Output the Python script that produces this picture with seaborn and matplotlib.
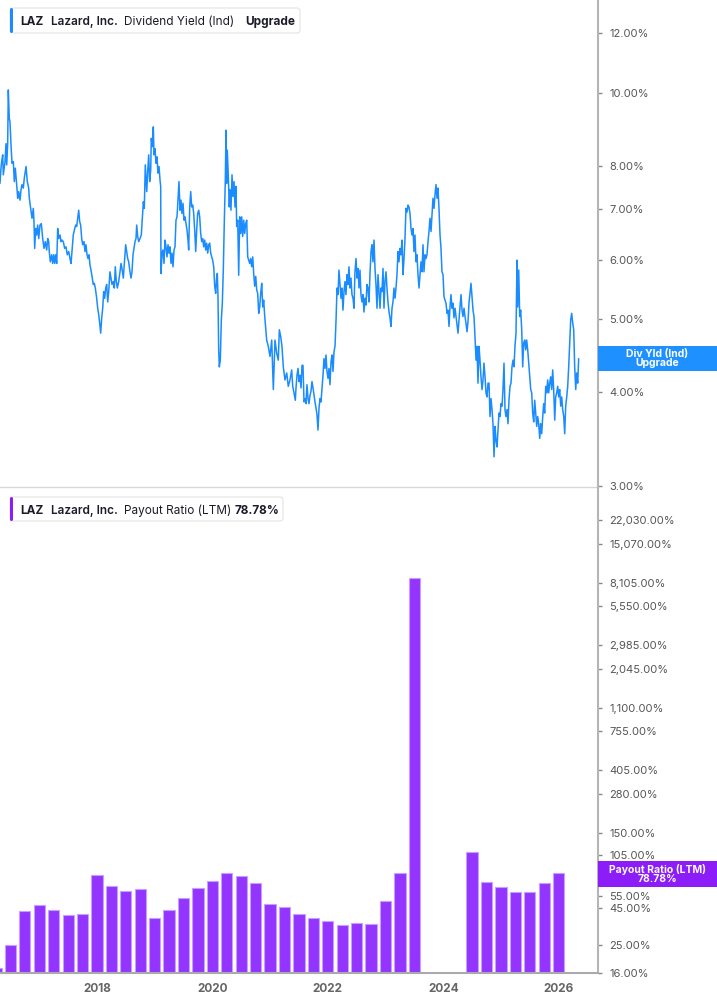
import numpy as np
import pandas as pd
import matplotlib
matplotlib.use("Agg")
import matplotlib.pyplot as plt
import seaborn as sns
from matplotlib.patches import FancyBboxPatch, Rectangle
from matplotlib.transforms import IdentityTransform
from matplotlib.ticker import FixedLocator, FixedFormatter, NullLocator

# Dividend yield (Ind), % -- decimal year / value
yld_t = [
    2016.319, 2016.336, 2016.348, 2016.366, 2016.376, 2016.406, 2016.423, 2016.435, 2016.452, 2016.463,
    2016.480, 2016.492, 2016.510, 2016.527, 2016.550, 2016.567, 2016.584, 2016.608, 2016.626, 2016.643,
    2016.666, 2016.683, 2016.700, 2016.723, 2016.740, 2016.770, 2016.792, 2016.816, 2016.827, 2016.851,
    2016.874, 2016.896, 2016.908, 2016.920, 2016.938, 2016.955, 2016.972, 2016.990, 2017.012, 2017.035,
    2017.059, 2017.082, 2017.104, 2017.128, 2017.146, 2017.163, 2017.173, 2017.191, 2017.215, 2017.232,
    2017.250, 2017.267, 2017.284, 2017.302, 2017.319, 2017.336, 2017.359, 2017.376, 2017.393, 2017.416,
    2017.440, 2017.463, 2017.485, 2017.510, 2017.532, 2017.550, 2017.567, 2017.589, 2017.614, 2017.631,
    2017.648, 2017.666, 2017.683, 2017.700, 2017.717, 2017.735, 2017.752, 2017.775, 2017.792, 2017.809,
    2017.827, 2017.844, 2017.861, 2017.879, 2017.901, 2017.919, 2017.936, 2017.953, 2017.971, 2017.995,
    2018.012, 2018.030, 2018.047, 2018.064, 2018.082, 2018.099, 2018.116, 2018.133, 2018.151, 2018.168,
    2018.186, 2018.203, 2018.225, 2018.243, 2018.260, 2018.283, 2018.300, 2018.317, 2018.335, 2018.352,
    2018.376, 2018.399, 2018.416, 2018.433, 2018.456, 2018.480, 2018.497, 2018.515, 2018.532, 2018.549,
    2018.572, 2018.589, 2018.607, 2018.624, 2018.641, 2018.659, 2018.676, 2018.688, 2018.705, 2018.723,
    2018.745, 2018.768, 2018.785, 2018.803, 2018.820, 2018.837, 2018.862, 2018.879, 2018.896, 2018.913,
    2018.931, 2018.941, 2018.959, 2018.976, 2018.988, 2019.005, 2019.023, 2019.040, 2019.057, 2019.075,
    2019.092, 2019.104, 2019.109, 2019.127, 2019.144, 2019.161, 2019.179, 2019.196, 2019.213, 2019.231,
    2019.248, 2019.265, 2019.283, 2019.300, 2019.317, 2019.335, 2019.352, 2019.369, 2019.387, 2019.404,
    2019.421, 2019.439, 2019.456, 2019.473, 2019.491, 2019.508, 2019.525, 2019.543, 2019.560, 2019.577,
    2019.589, 2019.607, 2019.624, 2019.641, 2019.659, 2019.676, 2019.693, 2019.711, 2019.728, 2019.745,
    2019.763, 2019.780, 2019.797, 2019.815, 2019.832, 2019.849, 2019.867, 2019.884, 2019.901, 2019.919,
    2019.936, 2019.953, 2019.971, 2019.988, 2020.005, 2020.023, 2020.040, 2020.057, 2020.075, 2020.085,
    2020.097, 2020.109, 2020.120, 2020.137, 2020.155, 2020.172, 2020.189, 2020.207, 2020.224, 2020.236,
    2020.248, 2020.258, 2020.276, 2020.293, 2020.305, 2020.322, 2020.340, 2020.357, 2020.375, 2020.392,
    2020.409, 2020.421, 2020.439, 2020.456, 2020.473, 2020.491, 2020.508, 2020.525, 2020.543, 2020.560,
    2020.577, 2020.595, 2020.612, 2020.629, 2020.647, 2020.664, 2020.681, 2020.699, 2020.716, 2020.733,
    2020.751, 2020.768, 2020.785, 2020.803, 2020.820, 2020.837, 2020.855, 2020.872, 2020.889, 2020.907,
    2020.941, 2020.969, 2020.998, 2021.028, 2021.056, 2021.085, 2021.115, 2021.142, 2021.160, 2021.184,
    2021.206, 2021.229, 2021.258, 2021.288, 2021.315, 2021.345, 2021.374, 2021.392, 2021.414, 2021.437,
    2021.449, 2021.466, 2021.484, 2021.501, 2021.518, 2021.536, 2021.553, 2021.570, 2021.588, 2021.605,
    2021.622, 2021.639, 2021.657, 2021.674, 2021.692, 2021.709, 2021.726, 2021.744, 2021.761, 2021.778,
    2021.796, 2021.813, 2021.830, 2021.848, 2021.865, 2021.882, 2021.900, 2021.917, 2021.934, 2021.952,
    2021.969, 2021.986, 2022.004, 2022.021, 2022.038, 2022.056, 2022.073, 2022.090, 2022.108, 2022.125,
    2022.142, 2022.160, 2022.177, 2022.194, 2022.212, 2022.229, 2022.246, 2022.263, 2022.281, 2022.298,
    2022.315, 2022.333, 2022.350, 2022.367, 2022.385, 2022.402, 2022.419, 2022.437, 2022.454, 2022.471,
    2022.489, 2022.506, 2022.523, 2022.541, 2022.558, 2022.575, 2022.593, 2022.610, 2022.627, 2022.645,
    2022.662, 2022.679, 2022.697, 2022.714, 2022.731, 2022.749, 2022.766, 2022.783, 2022.801, 2022.818,
    2022.835, 2022.853, 2022.870, 2022.887, 2022.905, 2022.922, 2022.939, 2022.957, 2022.974, 2022.991,
    2023.009, 2023.026, 2023.043, 2023.061, 2023.078, 2023.095, 2023.113, 2023.130, 2023.147, 2023.165,
    2023.182, 2023.199, 2023.217, 2023.234, 2023.251, 2023.269, 2023.286, 2023.303, 2023.321, 2023.338,
    2023.355, 2023.373, 2023.390, 2023.407, 2023.425, 2023.442, 2023.459, 2023.477, 2023.494, 2023.511,
    2023.529, 2023.546, 2023.563, 2023.581, 2023.598, 2023.615, 2023.633, 2023.650, 2023.667, 2023.685,
    2023.702, 2023.719, 2023.737, 2023.754, 2023.771, 2023.789, 2023.806, 2023.823, 2023.841, 2023.858,
    2023.875, 2023.893, 2023.910, 2023.927, 2023.945, 2023.962, 2023.979, 2023.997, 2024.014, 2024.031,
    2024.049, 2024.066, 2024.083, 2024.101, 2024.118, 2024.135, 2024.153, 2024.170, 2024.187, 2024.205,
    2024.222, 2024.239, 2024.257, 2024.274, 2024.291, 2024.309, 2024.326, 2024.343, 2024.361, 2024.378,
    2024.395, 2024.413, 2024.430, 2024.447, 2024.465, 2024.482, 2024.499, 2024.517, 2024.534, 2024.551,
    2024.569, 2024.586, 2024.603, 2024.621, 2024.638, 2024.655, 2024.673, 2024.690, 2024.707, 2024.725,
    2024.742, 2024.759, 2024.777, 2024.794, 2024.811, 2024.829, 2024.846, 2024.863, 2024.881, 2024.898,
    2024.915, 2024.933, 2024.950, 2024.967, 2024.984, 2025.002, 2025.019, 2025.036, 2025.054, 2025.071,
    2025.088, 2025.106, 2025.123, 2025.140, 2025.158, 2025.175, 2025.192, 2025.210, 2025.227, 2025.244,
    2025.262, 2025.279, 2025.291, 2025.309, 2025.326, 2025.343, 2025.361, 2025.378, 2025.395, 2025.413,
    2025.430, 2025.447, 2025.465, 2025.482, 2025.499, 2025.517, 2025.534, 2025.551, 2025.569, 2025.586,
    2025.603, 2025.621, 2025.638, 2025.655, 2025.673, 2025.690, 2025.707, 2025.725, 2025.742, 2025.759,
    2025.777, 2025.794, 2025.811, 2025.829, 2025.846, 2025.863, 2025.881, 2025.898, 2025.915, 2025.933,
    2025.950, 2025.967, 2025.985, 2026.002, 2026.019, 2026.037, 2026.054, 2026.071, 2026.089, 2026.106,
    2026.123, 2026.141, 2026.158, 2026.175, 2026.193, 2026.210, 2026.227, 2026.245, 2026.262, 2026.279,
    2026.297, 2026.314, 2026.331, 2026.348,
]
yld_v = [
    7.58, 7.94, 8.10, 8.27, 7.78, 8.10, 8.56, 8.02, 8.56, 10.09,
    9.25, 9.15, 8.52, 8.06, 8.10, 7.62, 7.94, 7.55, 7.24, 7.39,
    7.20, 7.43, 7.55, 7.47, 7.70, 7.98, 7.62, 7.47, 7.24, 7.02,
    6.81, 7.02, 6.74, 6.21, 6.60, 6.47, 6.67, 6.40, 6.67, 6.70,
    6.40, 6.21, 6.34, 6.18, 6.40, 6.34, 6.15, 5.96, 6.09, 5.93,
    6.09, 5.93, 6.09, 5.93, 6.60, 6.40, 6.47, 6.34, 6.37, 6.34,
    6.21, 6.24, 6.09, 6.15, 6.02, 5.93, 6.15, 6.47, 6.60, 6.67,
    6.64, 6.81, 6.98, 6.74, 6.67, 6.40, 6.28, 6.34, 6.15, 6.28,
    6.09, 6.02, 6.09, 5.90, 5.78, 5.67, 5.56, 5.58, 5.50, 5.33,
    5.17, 5.07, 4.94, 4.79, 5.02, 5.17, 5.44, 5.33, 5.50, 5.56,
    5.27, 5.44, 5.78, 5.67, 5.56, 5.61, 5.50, 5.87, 5.61, 5.50,
    5.61, 5.78, 5.93, 5.84, 5.67, 6.02, 6.28, 6.15, 6.02, 5.96,
    5.78, 5.67, 5.78, 6.09, 6.21, 6.34, 6.40, 6.67, 6.44, 6.34,
    6.40, 6.47, 6.81, 7.16, 7.02, 8.02, 7.39, 7.86, 8.27, 7.62,
    7.90, 8.70, 8.48, 9.01, 8.27, 8.43, 8.06, 8.22, 7.82, 7.98,
    7.66, 7.51, 5.75, 6.12, 6.18, 5.93, 6.37, 6.24, 6.05, 6.28,
    6.12, 6.24, 5.93, 6.12, 5.87, 6.18, 6.24, 6.77, 6.84, 7.20,
    7.62, 6.98, 7.20, 6.91, 7.13, 6.77, 6.84, 6.70, 6.57, 6.37,
    6.18, 7.05, 7.39, 7.05, 7.09, 6.91, 6.57, 6.15, 6.57, 6.91,
    6.98, 6.84, 6.50, 6.34, 6.40, 6.24, 6.37, 6.18, 6.31, 6.12,
    6.28, 6.31, 6.12, 6.05, 5.99, 5.87, 5.53, 5.41, 5.70, 5.75,
    5.36, 4.55, 4.32, 4.41, 4.99, 5.25, 5.81, 6.77, 7.66, 8.92,
    7.58, 8.39, 7.74, 7.05, 7.43, 6.98, 7.78, 7.28, 7.62, 7.05,
    7.51, 6.64, 6.77, 5.72, 6.84, 6.50, 6.84, 6.44, 6.77, 6.50,
    6.70, 6.77, 6.05, 5.99, 5.93, 6.02, 5.87, 6.05, 5.75, 5.53,
    5.70, 5.47, 5.41, 5.09, 5.19, 5.41, 5.58, 5.19, 5.30, 5.04,
    4.69, 4.60, 4.46, 4.69, 4.03, 4.69, 4.50, 4.41, 4.84, 4.74,
    4.60, 4.32, 4.15, 4.24, 4.07, 4.15, 4.28, 4.07, 3.99, 3.90,
    4.05, 4.21, 4.30, 4.13, 4.21, 4.05, 4.34, 4.34, 3.88, 3.92,
    3.86, 4.09, 3.92, 3.86, 3.96, 4.01, 4.13, 4.05, 3.96, 3.88,
    3.81, 3.73, 3.56, 3.81, 3.92, 3.88, 4.05, 4.21, 4.43, 4.30,
    4.48, 4.26, 4.17, 4.30, 4.09, 4.39, 4.48, 4.26, 4.53, 4.60,
    4.96, 5.50, 5.39, 5.81, 5.56, 5.33, 5.50, 5.14, 5.44, 5.61,
    5.39, 5.73, 5.56, 5.87, 5.50, 5.67, 5.39, 5.33, 5.17, 5.78,
    6.02, 5.67, 5.84, 5.50, 5.81, 5.39, 5.27, 5.39, 5.11, 5.33,
    5.22, 5.56, 5.50, 5.27, 5.73, 6.15, 6.28, 5.96, 6.37, 5.84,
    5.56, 5.17, 5.73, 5.44, 5.17, 5.50, 5.44, 5.84, 5.17, 5.61,
    5.78, 5.50, 5.27, 5.11, 5.02, 4.89, 5.17, 5.27, 5.50, 5.33,
    5.50, 5.73, 6.15, 5.96, 6.21, 6.09, 6.37, 5.73, 6.02, 6.40,
    7.02, 6.94, 7.09, 7.05, 6.91, 6.60, 6.47, 6.60, 6.15, 6.47,
    5.96, 6.09, 5.73, 5.50, 5.73, 5.96, 5.78, 6.28, 5.78, 6.09,
    6.02, 6.09, 6.34, 6.54, 6.81, 6.54, 6.88, 7.24, 7.02, 7.32,
    7.55, 7.24, 7.47, 7.02, 6.47, 6.21, 5.78, 5.73, 5.36, 5.30,
    5.25, 5.09, 5.14, 4.89, 5.19, 5.39, 5.17, 5.25, 5.02, 5.17,
    5.04, 4.92, 4.79, 4.99, 5.19, 5.39, 5.14, 5.04, 5.17, 5.04,
    4.94, 4.81, 4.96, 5.25, 5.41, 5.58, 5.36, 5.14, 5.04, 4.74,
    4.41, 4.60, 4.11, 4.60, 4.41, 4.19, 4.03, 4.15, 4.37, 4.19,
    3.99, 3.94, 4.11, 4.11, 3.71, 3.92, 3.79, 3.63, 3.28, 3.60,
    3.45, 3.38, 3.56, 3.75, 3.71, 3.86, 3.83, 4.03, 4.37, 3.79,
    3.71, 3.79, 3.63, 3.90, 4.07, 4.11, 4.32, 4.41, 4.32, 4.60,
    4.79, 5.99, 5.19, 5.81, 5.04, 5.14, 4.84, 4.32, 4.65, 4.69,
    4.55, 4.69, 4.55, 4.37, 4.19, 4.03, 3.99, 3.75, 3.65, 3.90,
    3.75, 3.60, 3.71, 3.63, 3.47, 3.63, 3.52, 3.71, 3.86, 3.75,
    4.07, 3.99, 4.15, 3.99, 4.11, 4.19, 4.03, 4.28, 4.03, 3.67,
    3.94, 3.99, 4.07, 3.94, 4.03, 3.83, 3.94, 3.79, 3.71, 3.52,
    3.83, 3.94, 4.07, 4.32, 4.65, 4.99, 5.09, 4.94, 4.84, 4.32,
    4.03, 4.24, 4.11, 4.43,
]

# Payout ratio (LTM), % -- one bar per quarter end (NaN = no bar drawn)
bar_q = [
    2016.25, 2016.50, 2016.75, 2017.00, 2017.25, 2017.50, 2017.75, 2018.00,
    2018.25, 2018.50, 2018.75, 2019.00, 2019.25, 2019.50, 2019.75, 2020.00,
    2020.25, 2020.50, 2020.75, 2021.00, 2021.25, 2021.50, 2021.75, 2022.00,
    2022.25, 2022.50, 2022.75, 2023.00, 2023.25, 2023.50, 2023.75, 2024.00,
    2024.25, 2024.50, 2024.75, 2025.00, 2025.25, 2025.50, 2025.75, 2026.00,
]
bar_v = [
    17.3, 25.0, 43.2, 47.4, 43.7, 40.4, 41.0, 76.4,
    64.1, 59.5, 61.1, 38.5, 43.7, 52.9, 62.1, 69.5,
    78.9, 75.2, 67.3, 48.1, 45.9, 41.0, 38.5, 36.7,
    34.4, 35.5, 35.0, 50.5, 79.3, 8750.0, np.nan, np.nan,
    np.nan, 110.9, 68.3, 63.1, 58.5, 58.3, 67.3, 78.78,
]

yld_ticks = [3, 4, 5, 6, 7, 8, 10, 12]
pay_ticks = [16, 25, 45, 55, 105, 150, 280, 405, 755, 1100, 2045, 2985, 5550, 8105, 15070, 22030]
year_ticks = [2018, 2020, 2022, 2024, 2026]

BLUE = "#1a8cff"
BLUE_BOX = "#1e90ff"
PURPLE = "#9334ff"
PURPLE_BOX = "#8c1cf8"

sns.set_style("white")
plt.rcParams["font.family"] = ["Inter", "DejaVu Sans"]

W, H = 717, 1005
fig = plt.figure(figsize=(W / 100, H / 100), dpi=100)

x0, x1 = 2016.319, 2026.683
ax_w = 598 / W
ax1 = fig.add_axes([0, (H - 487) / H, ax_w, 487 / H])
ax2 = fig.add_axes([0, (H - 973) / H, ax_w, (973 - 487) / H])

# top: dividend yield line
ax1.set_yscale("log")
line_df = pd.DataFrame({"t": yld_t, "v": yld_v})
sns.lineplot(data=line_df, x="t", y="v", ax=ax1, color=BLUE, linewidth=1.1)
ax1.set_xlim(x0, x1)
ax1.set_ylim(2.99, 13.29)

# bottom: payout ratio bars
ax2.set_yscale("log")
bar_df = pd.DataFrame({"q": bar_q, "v": bar_v}).dropna()
sns.barplot(data=bar_df, x="q", y="v", ax=ax2, native_scale=True, color=PURPLE,
            saturation=1, width=0.78, errorbar=None, edgecolor="#c7a0ff", linewidth=0.8)
ax2.set_xlim(x0, x1)
ax2.set_ylim(16, 37300)

for ax, ticks, labels in [
    (ax1, yld_ticks, [f"{t:.2f}%" for t in yld_ticks]),
    (ax2, pay_ticks, [f"{t:,.2f}%" for t in pay_ticks]),
]:
    ax.yaxis.tick_right()
    ax.yaxis.set_major_locator(FixedLocator(ticks))
    ax.yaxis.set_major_formatter(FixedFormatter(labels))
    ax.yaxis.set_minor_locator(NullLocator())
    ax.tick_params(axis="y", which="major", direction="out", length=3, width=1,
                   color="#888888", labelsize=8, labelcolor="#555555", pad=5)
    ax.set_xlabel("")
    ax.set_ylabel("")
    ax.spines["left"].set_visible(False)
    ax.spines["top"].set_visible(False)
    ax.spines["right"].set_color("#b5b5b5")
    ax.spines["right"].set_linewidth(1.5)
    ax.set_facecolor("none")

ax1.set_xticks([])
ax1.xaxis.set_minor_locator(NullLocator())
ax1.spines["bottom"].set_color("#d8d8d8")
ax1.spines["bottom"].set_linewidth(1)

ax2.set_xticks(year_ticks)
ax2.set_xticklabels([str(y) for y in year_ticks])
ax2.xaxis.set_minor_locator(NullLocator())
ax2.tick_params(axis="x", direction="out", length=4, width=1, color="#999999",
                labelsize=8.5, labelcolor="#666666", pad=3)
for lab in ax2.get_xticklabels():
    lab.set_fontweight("bold")
ax2.spines["bottom"].set_color("#aaaaaa")
ax2.spines["bottom"].set_linewidth(1.5)

ident = IdentityTransform()


def legend_box(top, bottom, right, accent, parts):
    box = FancyBboxPatch((10, H - bottom), right - 10, bottom - top,
                         boxstyle="round,pad=0,rounding_size=3", transform=ident,
                         facecolor="white", edgecolor="#e3e3e3", linewidth=0.8, zorder=5)
    fig.add_artist(box)
    bar = FancyBboxPatch((10, H - bottom), 3, bottom - top,
                         boxstyle="round,pad=0,rounding_size=1.5", transform=ident,
                         facecolor=accent, edgecolor="none", zorder=6)
    fig.add_artist(bar)
    yc = H - (top + bottom) / 2
    for txt, xp, wt in parts:
        fig.text(xp, yc, txt, transform=ident, ha="left", va="center_baseline",
                 fontsize=8.5, fontweight=wt, color="#1b1b2a", zorder=7)


legend_box(8, 33, 300, BLUE, [("LAZ", 20.5, "bold"), ("Lazard, Inc.", 51, "semibold"),
                              ("Dividend Yield (Ind)", 124, "normal"), ("Upgrade", 245, "bold")])
legend_box(497, 521, 283, "#8a1cff", [("LAZ", 20.5, "bold"), ("Lazard, Inc.", 51, "semibold"),
                                      ("Payout Ratio (LTM)", 124, "normal"), ("78.78%", 235, "bold")])


def value_tag(top, bottom, color, text):
    fig.add_artist(Rectangle((598, H - bottom), W - 598, bottom - top, transform=ident,
                             facecolor=color, edgecolor="none", zorder=5))
    fig.text(657.5, H - (top + bottom) / 2, text, transform=ident, ha="center", va="center",
             fontsize=7.5, fontweight="bold", color="white", linespacing=0.95, zorder=6)


value_tag(346, 371, BLUE_BOX, "Div Yld (Ind)\nUpgrade")
value_tag(861, 887, PURPLE_BOX, "Payout Ratio (LTM)\n78.78%")

fig.savefig("out.png", dpi=100, facecolor="white")
